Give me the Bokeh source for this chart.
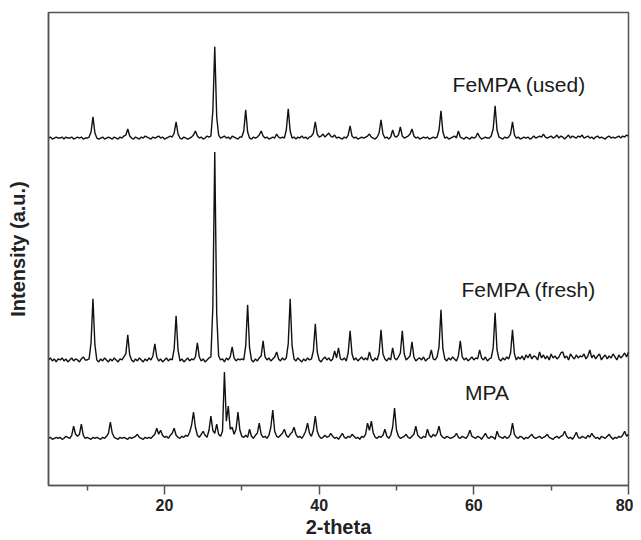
import numpy as np
from bokeh.plotting import figure
from bokeh.models import FixedTicker, Label
from bokeh.embed import file_html
from bokeh.resources import INLINE

# 2-theta sampling grid (degrees), 0.25 deg steps from 5 to 80
two_theta = np.linspace(5, 80, 301)

# Intensities above each pattern's own baseline (a.u.)
used = [
    1, 2, 0, 1,  2, 1, 1, 2,  0, 2, 1, 1,  2, 0, 1, 2,  1, 2, 0, 1,      # 5-9
    1, 2, 7, 22, 6, 1, 0, 1,  2, 0, 1, 2,  1, 0, 2, 1,  0, 2, 1, 3,      # 10-14
    4, 10, 3, 1, 0, 2, 1, 0,  2, 1, 3, 2,  1, 0, 2, 1,  2, 3, 1, 2,      # 15-19
    0, 1, 2, 3,  2, 6, 17, 5, 1, 0, 2, 1,  0, 1, 2, 4,  8, 3, 1, 2,      # 20-24
    0, 1, 3, 2,  3, 28, 92, 22, 4, 1, 2, 3, 1, 2, 0, 3,  2, 1, 0, 2,     # 25-29
    2, 8, 29, 7, 1, 0, 2, 1,  2, 4, 8, 3,  1, 2, 0, 1,  2, 1, 5, 2,      # 30-34
    1, 2, 1, 9,  30, 8, 1, 2, 0, 2, 1, 3,  1, 2, 0, 2,  3, 6, 17, 5,     # 35-39
    2, 3, 5, 2,  4, 6, 3, 2,  4, 1, 2, 1,  0, 2, 1, 4,  13, 3, 1, 2,     # 40-44
    0, 1, 2, 1,  2, 3, 5, 2,  1, 0, 2, 6,  19, 5, 1, 2, 0, 2, 9, 3,      # 45-49
    2, 4, 12, 3, 1, 2, 3, 5,  10, 3, 1, 2, 0, 1, 2, 1,  2, 0, 1, 2,      # 50-54
    1, 2, 9, 28, 7, 1, 2, 0,  1, 2, 3, 1,  8, 2, 1, 0,  2, 1, 0, 2,      # 55-59
    1, 2, 6, 2,  0, 1, 2, 1,  1, 3, 10, 33, 9, 2, 1, 0, 2, 1, 2, 5,      # 60-64
    17, 4, 1, 2, 0, 1, 2, 1,  2, 0, 1, 3,  1, 2, 3, 2,  5, 2, 1, 2,      # 65-69
    3, 1, 2, 4,  1, 3, 2, 0,  2, 4, 1, 3,  2, 1, 3, 2,  4, 1, 2, 3,      # 70-74
    1, 2, 0, 2,  3, 1, 2, 1,  0, 2, 3, 1,  2, 1, 2, 3,  1, 3, 2, 4,      # 75-79
    3,                                                                  # 80
]

fresh = [
    2, 4, 1, 3,  0, 3, 2, 4,  1, 3, 0, 2,  4, 1, 3, 2,  0, 3, 5, 2,      # 5-9
    2, 3, 19, 63, 17, 2, 0, 3, 1, 4, 2, 0, 3, 1, 4, 2,  0, 3, 2, 5,      # 10-14
    8, 27, 7, 2, 0, 3, 1, 4,  2, 0, 3, 1,  4, 2, 6, 18, 5, 1, 3, 0,      # 15-19
    2, 4, 1, 3,  2, 13, 46, 12, 1, 3, 0, 2, 4, 1, 3, 2, 5, 19, 5, 1,     # 20-24
    3, 0, 2, 4,  5, 55, 209, 48, 6, 2, 3, 0, 4, 2, 5, 15, 4, 1, 3, 2,    # 25-29
    3, 2, 16, 57, 14, 2, 0, 3, 1, 4, 6, 21, 5, 2, 4, 1, 3, 5, 10, 3,     # 30-34
    1, 4, 2, 4,  18, 63, 16, 3, 1, 4, 2, 0, 3, 1, 4, 2, 3, 11, 38, 10,   # 35-39
    2, 0, 3, 5,  2, 4, 1, 3,  11, 4, 14, 3, 2, 4, 1, 9, 31, 8, 2, 4,     # 40-44
    1, 3, 5, 2,  4, 2, 10, 3, 1, 4, 2, 9,  32, 8, 3, 1, 4, 2, 14, 4,     # 45-49
    2, 5, 9, 31, 8, 2, 4, 6,  20, 5, 1, 3, 4, 2, 5, 1,  3, 4, 12, 3,     # 50-54
    2, 5, 15, 52, 13, 3, 1, 4, 2, 5, 3, 1, 6, 21, 5, 2, 4, 1, 3, 5,      # 55-59
    2, 4, 3, 12, 4, 2, 5, 1,  3, 4, 14, 49, 12, 3, 1, 4, 2, 5, 3, 9,     # 60-64
    32, 8, 2, 5, 3, 6, 2, 7,  4, 8, 3, 6,  5, 2, 10, 4, 7, 3, 6, 2,      # 65-69
    8, 4, 6, 3,  5, 9, 10, 4, 6, 2, 8, 5,  3, 7, 4, 6,  5, 8, 3, 6,      # 70-74
    12, 4, 7, 3, 6, 8, 2, 5,  7, 3, 6, 4,  8, 5, 2, 7,  4, 6, 9, 5,      # 75-79
    10,                                                                 # 80
]

mpa = [
    1, 2, 0, 1,  2, 1, 2, 0,  1, 3, 2, 1,  4, 13, 5, 3, 5, 15, 4, 1,     # 5-9
    2, 1, 0, 2,  1, 2, 1, 0,  2, 1, 3, 6,  17, 6, 2, 1, 0, 2, 1, 2,      # 10-14
    1, 0, 2, 1,  2, 3, 5, 2,  1, 0, 2, 1,  2, 1, 3, 5,  11, 5, 9, 4,     # 15-19
    2, 3, 1, 4,  6, 11, 4, 2, 1, 3, 2, 4,  3, 7, 14, 27, 12, 4, 2, 5,    # 20-24
    8, 4, 2, 9,  23, 9, 6, 15, 5, 3, 8, 67, 18, 33, 10, 12, 5, 10, 27, 9,  # 25-29
    3, 2, 4, 2,  10, 3, 1, 4, 6, 16, 5, 2,  3, 1, 4, 12, 29, 8, 3, 2,    # 30-34
    4, 6, 10, 4, 2, 5, 7, 12, 5, 2, 3, 1,  4, 8, 16, 6, 3, 9, 23, 8,     # 35-39
    3, 1, 2, 4,  2, 3, 6, 3,  1, 2, 0, 3,  6, 2, 1, 3,  2, 5, 3, 1,      # 40-44
    2, 0, 3, 2,  5, 16, 9, 18, 6, 2, 1, 3, 2, 4, 10, 3, 1, 4, 12, 31,    # 45-49
    9, 3, 1, 2,  3, 5, 2, 1,  3, 5, 13, 4, 2, 1, 3, 2,  10, 4, 2, 5,     # 50-54
    3, 6, 13, 4, 2, 1, 3, 2,  1, 2, 3, 6,  2, 1, 3, 2,  1, 4, 9, 3,      # 55-59
    2, 1, 3, 2,  0, 3, 6, 2,  1, 3, 2, 0,  8, 3, 2, 1,  3, 1, 2, 5,      # 60-64
    16, 5, 2, 1, 3, 2, 0, 2,  1, 3, 5, 2,  1, 2, 3, 1,  2, 3, 5, 2,      # 65-69
    1, 0, 2, 3,  1, 3, 4, 8,  3, 1, 2, 0,  3, 7, 2, 1,  3, 2, 1, 4,      # 70-74
    2, 6, 3, 1,  2, 0, 3, 2,  1, 3, 5, 2,  0, 2, 1, 3,  2, 4, 8, 3,      # 75-79
    5,                                                                  # 80
]

# vertical stacking offsets of the three patterns
offset_used = 345
offset_fresh = 123
offset_mpa = 46

series_names = ["FeMPA (used)", "FeMPA (fresh)", "MPA"]
x_ticks = [20, 40, 60, 80]
x_minor_ticks = [10, 30, 50, 70]

FONT = "Liberation Sans"

p = figure(width=633, height=540, x_range=(5, 80), y_range=(0, 471),
           output_backend="svg", toolbar_location=None,
           min_border_left=48, min_border_right=5, min_border_top=12,
           min_border_bottom=10)
p.xgrid.visible = False
p.ygrid.visible = False
p.background_fill_color = "white"
p.border_fill_color = "white"
p.outline_line_color = "#555555"
p.outline_line_width = 1.5

for vals, off in [(used, offset_used), (fresh, offset_fresh), (mpa, offset_mpa)]:
    y = np.array(vals[:len(two_theta)], dtype=float) + off
    p.line(two_theta[:len(y)], y, line_color="#111111", line_width=1.4)

# x axis
p.xaxis.ticker = FixedTicker(ticks=x_ticks, minor_ticks=x_minor_ticks)
p.xaxis.axis_label = "2-theta"
p.xaxis.axis_label_text_font = FONT
p.xaxis.axis_label_text_font_style = "bold"
p.xaxis.axis_label_text_font_size = "20px"
p.xaxis.axis_label_text_color = "#222222"
p.xaxis.axis_label_standoff = 2
p.xaxis.major_label_text_font = FONT
p.xaxis.major_label_text_font_style = "bold"
p.xaxis.major_label_text_font_size = "16px"
p.xaxis.major_label_text_color = "#222222"
p.xaxis.major_label_standoff = 4
p.xaxis.major_tick_in = 0
p.xaxis.major_tick_out = 9
p.xaxis.minor_tick_in = 0
p.xaxis.minor_tick_out = 5
p.xaxis.major_tick_line_color = "#555555"
p.xaxis.minor_tick_line_color = "#555555"
p.xaxis.major_tick_line_width = 1.5
p.xaxis.minor_tick_line_width = 1.5
p.xaxis.axis_line_color = "#555555"
p.xaxis.axis_line_width = 1.5

# y axis (no ticks, no tick labels)
p.yaxis.ticker = FixedTicker(ticks=[])
p.yaxis.axis_label = "Intensity (a.u.)"
p.yaxis.axis_label_text_font = FONT
p.yaxis.axis_label_text_font_style = "bold"
p.yaxis.axis_label_text_font_size = "20px"
p.yaxis.axis_label_text_color = "#222222"
p.yaxis.axis_label_standoff = 20
p.yaxis.major_label_standoff = 0
p.yaxis.major_tick_line_color = None
p.yaxis.minor_tick_line_color = None
p.yaxis.major_tick_out = 0
p.yaxis.major_tick_in = 0
p.yaxis.minor_tick_out = 0
p.yaxis.axis_line_color = "#555555"
p.yaxis.axis_line_width = 1.5

# series labels
label_pos = [(57.25, 399), (58.4, 195), (58.86, 93)]
for name, (lx, ly) in zip(series_names, label_pos):
    p.add_layout(Label(x=lx, y=ly, text=name, text_font=FONT,
                       text_font_size="21px", text_color="#1a1a1a",
                       text_baseline="alphabetic", text_align="left"))

open("out.html", "w").write(file_html(p, INLINE))
